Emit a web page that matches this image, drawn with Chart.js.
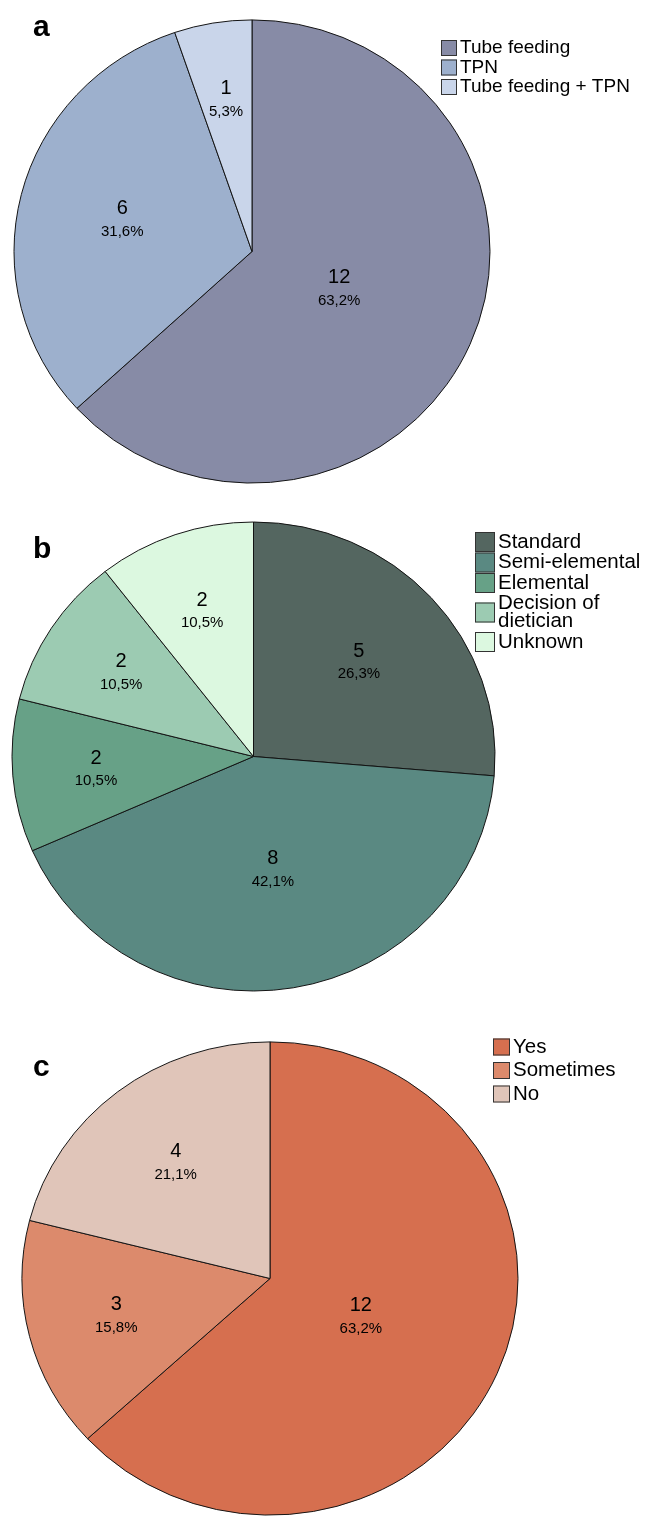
<!DOCTYPE html>
<html lang="en">
  <head>
    <meta charset="UTF-8" />
    <title>Nutrition pies</title>
    <style>
      body { margin: 0; background: #fff; }
      .wrap { position: relative; width: 646px; height: 1522px; }
      canvas { position: absolute; left: 0; }
    </style>
  </head>
  <body>
    <div class="wrap">
      <canvas id="pieA" width="646" height="500" style="top:0"></canvas>
      <canvas id="pieB" width="646" height="510" style="top:500px"></canvas>
      <canvas id="pieC" width="646" height="512" style="top:1010px"></canvas>
    </div>

    <script src="https://cdn.jsdelivr.net/npm/chart.js@4.4.0/dist/chart.umd.min.js"></script>
    <script>
      // data
      const labelsA = ["Tube feeding", "TPN", "Tube feeding + TPN"];
      const countsA = [12, 6, 1];
      const labelsB = ["Standard", "Semi-elemental", "Elemental", ["Decision of", "dietician"], "Unknown"];
      const countsB = [5, 8, 2, 2, 2];
      const labelsC = ["Yes", "Sometimes", "No"];
      const countsC = [12, 3, 4];

      const colorsA = ["#878ba6", "#9db0cd", "#c9d5ea"];
      const colorsB = ["#546660", "#5a8982", "#67a187", "#9ccbb2", "#dcf8e0"];
      const colorsC = ["#d66f4f", "#dc8a6c", "#e0c5b9"];

      const FONT = "'Liberation Sans', Arial, sans-serif";

      // squash the pie a bit vertically, draw slice labels, legend and panel letter
      const panelPlugin = {
        id: "panel",
        beforeDatasetsDraw(chart, args, o) {
          const ctx = chart.ctx;
          ctx.save();
          ctx.translate(o.cx, o.cy);
          ctx.scale(1, o.k);
          ctx.translate(-o.cx, -o.cy);
        },
        afterDatasetsDraw(chart) {
          chart.ctx.restore();
        },
        afterDraw(chart, args, o) {
          const ctx = chart.ctx;
          const data = chart.data.datasets[0].data;
          const colors = chart.data.datasets[0].backgroundColor;
          const total = data.reduce((a, b) => a + b, 0);
          ctx.save();
          ctx.fillStyle = "#000";
          ctx.textAlign = "center";
          ctx.textBaseline = "middle";

          chart.getDatasetMeta(0).data.forEach((arc, i) => {
            const p = arc.getProps(["x", "y", "startAngle", "endAngle", "outerRadius"], true);
            const half = (p.endAngle - p.startAngle) / 2;
            const mid = p.startAngle + half;
            // sector centroid, but keep labels of huge slices away from the centre
            let d = (2 * p.outerRadius * Math.sin(half)) / (3 * half);
            d = Math.max(d, 0.4 * p.outerRadius);
            const lx = p.x + Math.cos(mid) * d;
            const ly = p.y + Math.sin(mid) * d * o.k;
            const pct = ((data[i] / total) * 100).toFixed(1).replace(".", ",") + "%";
            ctx.font = "20px " + FONT;
            ctx.fillText(String(data[i]), lx, ly - 11);
            ctx.font = "15px " + FONT;
            ctx.fillText(pct, lx, ly + 12);
          });

          // legend
          ctx.textAlign = "left";
          ctx.font = o.legendFont + "px " + FONT;
          let yy = o.legendY;
          chart.data.labels.forEach((lab, i) => {
            const lines = Array.isArray(lab) ? lab : [lab];
            const h = (lines.length - 1) * o.lineStep;
            const bc = yy + h / 2;
            ctx.fillStyle = colors[i];
            ctx.fillRect(o.legendX, bc - o.box / 2, o.box, o.box);
            ctx.strokeStyle = "#333";
            ctx.lineWidth = 1;
            ctx.strokeRect(o.legendX + 0.5, bc - o.box / 2 + 0.5, o.box - 1, o.box - 1);
            ctx.fillStyle = "#000";
            lines.forEach((t, j) => {
              ctx.fillText(t, o.legendX + o.box + 3, yy + j * o.lineStep);
            });
            yy += h + o.rowStep;
          });

          // panel letter
          ctx.font = "bold 30px " + FONT;
          ctx.textBaseline = "alphabetic";
          ctx.fillText(o.letter, 33, o.letterY);
          ctx.restore();
        },
      };

      function makePie(id, labels, counts, colors, o) {
        const c = document.getElementById(id);
        const H = c.height;
        const pad = {
          left: 0,
          right: 646 - 2 * o.cx,
          top: Math.max(0, 2 * o.cy - H),
          bottom: Math.max(0, H - 2 * o.cy),
        };
        return new Chart(c.getContext("2d"), {
          type: "pie",
          data: {
            labels: labels,
            datasets: [
              {
                data: counts,
                backgroundColor: colors,
                borderColor: "#111",
                borderWidth: 1,
                radius: o.r,
              },
            ],
          },
          options: {
            responsive: false,
            animation: false,
            layout: { padding: pad },
            plugins: {
              legend: { display: false },
              tooltip: { enabled: false },
              panel: o,
            },
          },
          plugins: [panelPlugin],
        });
      }

      makePie("pieA", labelsA, countsA, colorsA, {
        cx: 252, cy: 251.5, r: 238, k: 0.973,
        letter: "a", letterY: 36,
        legendX: 441, legendY: 48, rowStep: 19.5, lineStep: 19.5, box: 16, legendFont: 19,
      });

      makePie("pieB", labelsB, countsB, colorsB, {
        cx: 253.5, cy: 256.5, r: 241.5, k: 0.971,
        letter: "b", letterY: 58,
        legendX: 475, legendY: 42, rowStep: 20.5, lineStep: 18, box: 20, legendFont: 20.5,
      });

      makePie("pieC", labelsC, countsC, colorsC, {
        cx: 270, cy: 268.5, r: 248, k: 0.954,
        letter: "c", letterY: 66,
        legendX: 493, legendY: 37, rowStep: 23.5, lineStep: 23.5, box: 17, legendFont: 20.5,
      });
    </script>
  </body>
</html>
